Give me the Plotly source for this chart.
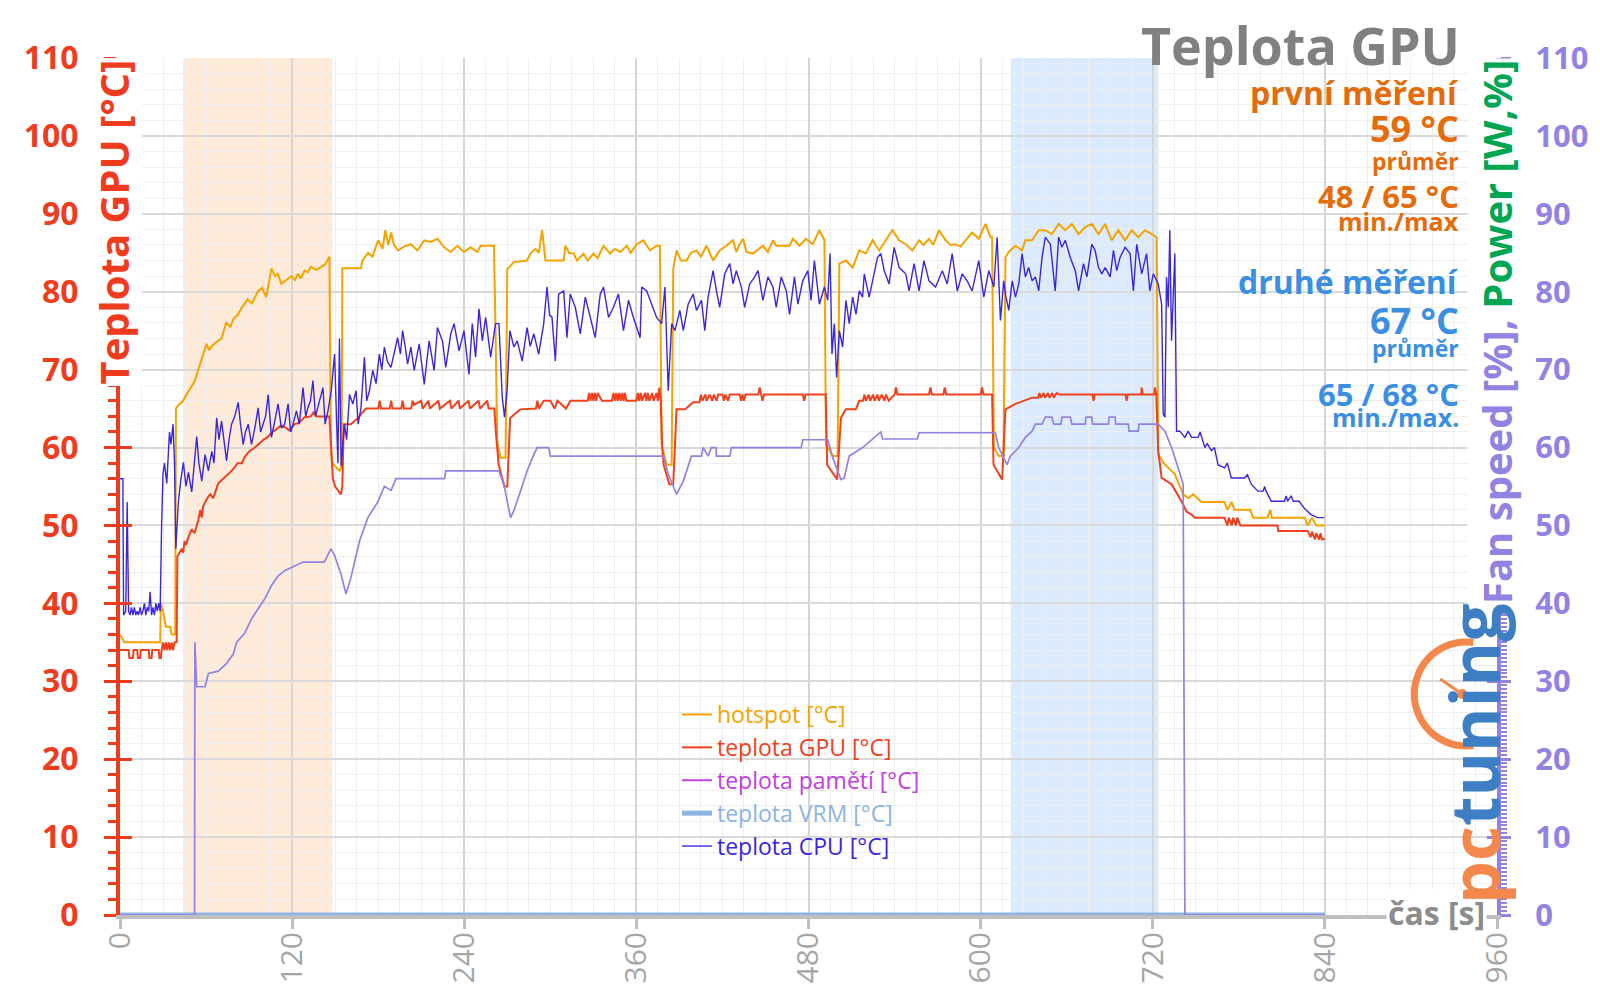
import math
import plotly.graph_objects as go

# ---------------- data (time [s], value) ----------------
hotspot = [(0,36),(3,35),(28,35),(28.5,40),(30,39),(32,37),(35,37),(36,36),(38.5,36),(39,65),(41,65.5),(44,66),(47,67),(49,67.6),(52,68.5),(54.6,70),(57,71.5),(60.4,73.3),(62,72.5),(64,73),(67,73.5),(70.8,74),(74,76),(77,75.5),(79,76.5),(82,77),(85,78),(89,79),(92,78.5),(96,80),(99,80.5),(102,79.3),(105.6,83),(108,82),(110,82.3),(112.5,81),(116,81.5),(119.5,82),(122,81.5),(124,82.3),(126,81.7),(128.7,82.7),(131,82.5),(133,83.2),(137,82.8),(140,83.2),(143,83.5),(146,84.5),(147,60),(148,58),(153,57),(154.5,57.5),(155,83),(168,83),(169,84),(173,85),(176,84.5),(180,86.6),(183,85.5),(185,87.9),(187,86),(189,87.6),(191,86),(194,85.3),(198,85.8),(202.8,86.1),(207.4,85.3),(212.1,86.6),(216.7,86.4),(221.3,86.8),(226,85.7),(230.6,85.1),(235.2,85.9),(239.8,85.1),(244.5,85.7),(249.1,85.1),(251.4,85.9),(256,85.9),(260.7,85.9),(261.8,75),(263,60.8),(265.3,58.7),(268.8,58.7),(270,82.9),(274.6,83.8),(283.8,84),(286.2,84.9),(289.6,85.5),(292,85),(294.3,87.9),(296.6,84),(300,84),(309.3,84),(310.5,85.9),(313,85),(316.3,84.9),(318.6,84),(323.2,84.9),(326,84),(330.1,84.9),(333,84.3),(337.1,85.9),(341.7,84.9),(345,85.5),(348.7,85.1),(353.3,85.9),(356,85),(360.2,86.1),(364.9,86.6),(369.5,85.3),(374.1,85.9),(376.4,85.9),(377.6,60.4),(381.1,57.8),(384.6,57.8),(385.7,82.9),(388,85.3),(391,84),(395,84),(398,85),(401.9,85.3),(405,84.5),(408.9,85.9),(413.5,84),(418.1,85.3),(422.8,85.9),(427.4,86.6),(429.7,85.1),(432,86.1),(434.4,86.8),(436.7,85.1),(441.3,84.9),(445,85.5),(448.2,85.9),(451.7,85.1),(455.2,86.6),(457.5,85.9),(462,85.9),(466.8,85.9),(469.1,86.8),(473.7,85.9),(478.3,86.8),(483,86.1),(487.6,87.9),(491.1,86.6),(492.2,60.4),(496.9,58.9),(500.3,58.9),(501.5,83.6),(506.1,84),(510.8,83.1),(515.4,85.3),(520,84.9),(524.7,86.6),(529.3,85.3),(533.9,86.6),(538.5,87.9),(543.2,86.6),(547.8,86.1),(552.4,85.3),(557.1,86.6),(560,86),(564,86.8),(567,86),(571,87.9),(575.6,86.6),(579,86),(582.5,86.1),(586,85.8),(589.5,86.6),(594.1,87.6),(598.7,86.8),(603.4,88.7),(606.8,87),(608,87),(609.2,60),(612.6,58.9),(616,58.9),(617.3,84.4),(619.6,85.1),(624.3,85.9),(628.9,85.3),(631.2,86.6),(635.9,86.6),(640.5,87.9),(645.1,87.9),(649.7,87.4),(654.4,88.7),(659,87.9),(663.6,88.7),(668.3,87.4),(672.9,88.3),(677.5,88.7),(682.2,87.4),(686.8,88.7),(691.4,86.6),(696,87.9),(700.7,86.6),(705.3,87.9),(709.9,87),(714.6,87.9),(719.2,87.4),(722.7,87),(723.8,59.1),(728.5,57.8),(735.4,56.6),(741.2,54),(745,53.5),(748,54),(751,53.5),(754,53),(770,53),(772,52),(775,53),(777,52),(788,52),(790,51),(800,51),(802,52),(803,51),(826,51),(828,50),(831,51),(834,50),(840,50)]

gpu = [(0,34),(6,34),(6.5,33),(9,33),(9.5,34),(12,34),(12.5,33),(14,33),(14.5,34),(20,34),(20.5,33),(22,33),(22.5,34),(27,34),(27.5,33),(28.5,33),(29,34),(30,35),(31,34),(32,35),(33,34),(34,35),(35,34),(36,35),(37,34),(38,35),(39.5,35),(40,46),(41.5,46.5),(43,47),(44,46.5),(45,48),(46,47.5),(47.7,48.5),(50,49.5),(52,49),(54.6,50.7),(56,52),(57,51),(58,52.5),(61.5,53.7),(63,54),(65,53.5),(68.5,55.4),(72,56),(75,56.5),(77.8,57),(80,57.5),(82,58),(85,58),(87,58.8),(90,59.5),(94,60),(97,60.5),(100,61),(103.3,61.4),(106,62),(108,62.2),(112,62.8),(115,62.6),(118,62.2),(121.8,63),(125,63.2),(128.7,63.9),(133,64),(135,64.5),(137,64),(146,64),(147.5,58),(148.4,56),(150,55),(154,54),(155,55),(156,63),(161,63),(164,63.5),(167,64),(169,64.5),(171.5,65),(180,65),(181,66),(182,65),(188,65),(189,66),(190,65),(196,65),(197,66),(198,65),(203,65),(204,66),(205,65.5),(210,66),(211,65),(215,66),(216,65),(222,66),(223,65),(230,66),(231,65),(236,66),(237,65),(243,66),(244,65),(250,66),(251,65),(256,66),(257,65),(261,65),(262,62),(264,57.8),(268,55),(270,55),(272,63.8),(279,64.9),(286,65),(290,65),(291,66),(292,65),(295.5,66),(300,66),(303,65),(305,66),(311,65),(314,66),(326,66),(327,67),(328,66),(329,67),(330,66),(331,67),(332,66),(333,67),(336,66),(343,66),(344,67),(345,66),(346,67),(347,66),(348,67),(349,66),(350,67),(351,66),(352,67),(353,66),(360,66),(361,67),(362,66),(363,67),(364,66),(366,67),(367,66),(368,67),(369,66),(371,67),(372,66),(374,67),(375,66),(376,67.7),(377,66),(378,60),(379,57.8),(383,55.3),(385.7,55.3),(388,64.9),(394,64.9),(399.6,65.8),(404,65.8),(405,66.8),(406,66),(408,66.8),(409,66),(411,66.8),(413,66),(414,66.8),(416,66),(417,66.8),(420,66.8),(421,66),(422,66.8),(424,66),(425,66.8),(432,66.8),(433,66),(434,66.8),(435,66),(436,66.8),(445,66.8),(446,67.7),(447,66.8),(448,66),(449,66.8),(476,66.8),(477,66),(478,66.8),(492,66.8),(493,57.8),(500,55.9),(502.6,63.8),(506,64.9),(513,64.9),(515.4,66),(518,66),(519,66.8),(520,66),(522,66.8),(523,66),(525,66.8),(526,66),(528,66.8),(529,66),(531,66.8),(533,66),(534,66.8),(536,66),(540,66.8),(541,67.7),(542,66.8),(564,66.8),(565,67.7),(566,66.8),(574,66.8),(575,67.7),(576,66.8),(600,66.8),(601,67.7),(602,66.8),(608,66.8),(609,57.8),(615,55.9),(617.3,64.9),(624.3,65.6),(630,66),(635.9,66.4),(640,66.4),(641,67),(642,66.4),(644,67),(645,66.4),(647,67),(648,66.4),(650,67),(651,66.4),(653,67),(655,66.8),(678,66.8),(678.7,66),(679.5,66.8),(701,66.8),(701.8,66),(702.6,66.8),(712,66.8),(712.3,67.7),(713,66.8),(721,66.8),(721.5,67.7),(722.5,66.8),(723.8,59.6),(726.2,56.1),(733.1,55.3),(740,53.1),(743.5,51.8),(747,51.4),(749.3,51),(770,51),(772,50),(773,51),(775,50),(776,51),(778,50),(779,51),(781,50),(807,50),(807.5,49.3),(828,49.3),(830,48.5),(831,49.2),(833,48.2),(834,49),(836,48.2),(837,49),(838,48.2),(840,48.3)]

cpu = [(0,56),(2,56),(2.5,38.5),(4,39),(5,53),(6,39),(7,38.5),(8,39.5),(9,38.5),(10,39.5),(11,38.5),(12,39),(13,38.5),(14,39.5),(15,38.5),(16,39),(17,40),(18,38.5),(19,39.5),(20,39),(21,41.5),(22,38.5),(23,39.5),(24,38.5),(25,40),(26,39),(27,40),(28,39),(29,50),(30,56.7),(31,58),(32.6,55.4),(34.5,62),(35.5,60.4),(37,63),(38,58),(38.9,47),(40.7,53),(42.5,56),(44.2,58.1),(46,55),(47.7,56.8),(50,54.3),(52,58),(53.5,61.4),(55,58),(57,55.7),(59.3,59.1),(61.6,57),(64,59.5),(65.5,58),(67.4,63.8),(69,61),(70.8,63.4),(72.5,61),(74.3,58.3),(76,61),(77.8,63),(80,64),(82.4,65.8),(84,63),(85.9,60.4),(87.5,62),(89.4,63),(91.7,60.4),(94,62.5),(96.3,65.1),(98,62),(99.7,63),(101.5,64),(103.3,66.8),(105.6,61.3),(108,63.5),(110.2,65.6),(112.5,62.5),(114.8,63),(117.2,65.6),(119,62),(120.6,63),(123,64.7),(125,63),(127.6,67.7),(129.5,64),(131,65.1),(132.8,66),(134.5,68.6),(136.3,64),(138,65.1),(141.5,67.7),(143,63),(145,64.7),(147.3,67.3),(149.6,72),(151.9,58),(153,74),(154.2,57.6),(156.5,63),(158,61),(160,66.8),(162.3,65.6),(164.6,67.3),(166,63),(168,65.1),(170.4,71.6),(172,66),(173.9,67.3),(176.2,69.9),(178.5,68.2),(180.8,72),(182.5,70),(184.3,72.9),(186.5,71),(188.9,70.3),(191,72),(193.5,74.1),(195.5,72),(197,75),(198.8,73),(200.5,70.7),(202.8,72.9),(205.1,69.9),(208.6,73.3),(212.1,68.1),(215.5,73.7),(219,69.9),(221.3,75.4),(224.8,73.7),(227.1,70.3),(230.6,74.6),(232.9,75.9),(236.4,72.4),(239.8,75),(243.3,69.4),(245.6,75.9),(247.9,71.6),(250.3,77.8),(252.6,73.7),(254.9,76.7),(258.4,71.6),(261.8,75.9),(264.2,75.9),(266.5,66.4),(268.1,63.9),(270,67.7),(271.8,75),(274.6,72.9),(276.9,73.7),(280.4,71.1),(283.8,75.4),(286,73),(288.5,74.6),(291.9,72),(295.4,75.9),(297.7,80.6),(299.5,77),(301.2,76.7),(303.5,71.1),(305.8,79.7),(309.3,80.1),(311.6,74.1),(313.9,79.7),(317.4,78),(320.9,74.6),(324.4,79.3),(327.8,76.7),(331.3,74.1),(334.8,79.7),(337.1,80.6),(340.6,76.7),(344,78),(347.5,79.7),(351,75),(354.5,78.9),(357.9,76.7),(362.6,74.1),(363.7,80.6),(367.2,80.1),(370.7,78.4),(374.1,76.7),(377.6,75.9),(379.9,80.6),(382.2,67.3),(384.6,75.9),(386.9,75),(390.3,77.6),(392.7,75),(396.1,78.4),(399.6,79.7),(401.9,77.6),(405.4,78.9),(407.7,75),(410,79.3),(413.5,82.7),(415.8,80.1),(418.1,78),(421.6,82.3),(425.1,83.6),(427.4,81),(429.7,82.7),(433.2,80.6),(435.5,78),(439,81),(442.5,81.9),(444.8,82.7),(448.2,78.9),(451.7,81.9),(455.2,80.6),(457.5,78),(461,81.9),(464.5,80.1),(466.8,77.1),(470.2,81.9),(472.6,78.4),(476,81.4),(479.5,82.7),(481.8,78.9),(484.1,84),(487.6,78.4),(491.1,80.6),(493.4,78.9),(495,84.9),(496.4,72),(498,75.9),(499.6,69),(501.5,75),(503.8,72.9),(506.1,78.9),(508.4,75.9),(510.8,79.3),(513.1,77.1),(515.4,80.1),(517.7,79.3),(518.9,82.3),(522.3,79.3),(525.8,82.3),(528.1,84.4),(530.4,84.9),(532.8,82.7),(536.2,81),(539.7,85.7),(543.2,83.1),(547.8,82.3),(550.1,80.1),(553.6,83.6),(557.1,80.1),(560.5,84),(564,81.4),(568.6,80.6),(573.3,82.7),(576.7,81),(580.2,84.9),(583.7,80.1),(587.2,82.3),(590.6,81.4),(594.1,80.1),(598.7,84),(602.2,79.3),(605.7,82.7),(609.2,80.6),(611.5,87),(613.8,76.3),(616.1,81.4),(617.3,79.7),(619.6,77.6),(622,81.4),(624.3,79.3),(626.6,81),(628.9,84.9),(631.2,81.9),(633.5,83.1),(635.9,81.4),(638.2,81.9),(640.5,80.1),(642.8,84.4),(645.1,87),(648.6,86.1),(652,80.1),(654.4,87),(656.7,85.7),(659,86.6),(662.5,84.4),(666,82.7),(668.3,80.1),(671.7,83.6),(674.1,81.9),(677.5,86.1),(679.8,85.3),(682.2,83.1),(684.5,82.3),(686.8,83.1),(690.3,81.9),(692.6,85.3),(694.9,82.7),(697.2,84.4),(700.7,85.7),(704.2,84.9),(706.5,80.1),(708.8,86.1),(712.3,82.3),(715.7,84.9),(718,80.1),(720.4,82.3),(723.8,81),(726.2,78.4),(727.3,64.3),(728.5,63.9),(729.6,81.9),(730.8,78),(731.9,87.9),(733.1,73.7),(735.4,84.9),(736.6,62.1),(738.9,62.1),(742.4,61.3),(744.7,62.1),(747,61.3),(751.6,61.3),(753,62),(756.3,60),(758,60.5),(760.9,59.6),(763,60),(765.5,57.8),(770.1,57.4),(772,58),(774.8,56.1),(784,56.1),(786,56.5),(788.7,55.3),(793.3,54.4),(797,54.4),(798,55),(799,54.4),(802.6,53.1),(811.8,53.1),(813,53.8),(814,53.1),(816.5,53.8),(818,53.1),(822,53.1),(825.7,52.2),(830.3,51.4),(834.9,51),(839.6,51)]

fan = [(0,0),(52,0),(52.2,35),(53.5,29.3),(59.3,29.3),(61.6,31),(68.5,31.3),(74.3,32.3),(79,33.5),(81.3,35),(87,36.2),(91.7,38),(96.3,39.3),(101,40.6),(105.6,42.3),(110.2,43.5),(114.8,44.2),(127.6,45.3),(142.4,45.3),(147,47),(149.3,46.3),(154,43.8),(157.6,41.2),(161,43.3),(167,48),(172.8,51),(179.7,53),(184.3,55),(189,54.5),(192.4,56),(226.3,56),(227.1,57),(264.2,57),(267.6,55.3),(272.3,51),(274.6,51.9),(279.2,54.4),(283.8,57),(288.5,59.1),(290.8,60),(298.9,60),(300,58.9),(378.8,58.9),(382.2,56.6),(388,54),(392.7,55.7),(398.4,58.9),(405.4,58.9),(406.5,60),(410,58.9),(412.3,60),(415.5,60),(415.8,58.9),(425.1,58.9),(426.3,60),(474.9,60),(476,61),(493.4,61),(496.9,58.7),(502.6,55.9),(504.9,56.1),(508.4,58.9),(517.7,60),(524.7,61.1),(530.4,62),(531.6,61.1),(555.9,61.1),(557.1,61.9),(610.3,61.9),(612.6,60),(618.4,57.8),(620.7,58.9),(626.6,60),(631.2,61.3),(635.9,62.1),(638.2,63),(642.8,63),(645.1,63.9),(649.7,63.9),(650.9,63),(656,63),(656.7,63.9),(662.5,63.9),(663.6,63),(672.9,63),(673.5,63.9),(677.5,63.9),(678,63),(689.1,63),(689.6,63.9),(693.7,63.9),(694.2,63),(703,63),(703.5,62.1),(709.9,62.1),(710.4,63),(723.8,63),(728.5,62.1),(733.1,60),(737.7,57.4),(741.2,55.3),(742.4,0),(840,0)]

memory = [(0,0),(840,0)]
vrm = [(0,0),(840,0)]

bands = [(44, 148), (621, 724)]          # highlighted test intervals [s]
x_ticks = [0, 120, 240, 360, 480, 600, 720, 840, 960]

# ---------------- styling ----------------
RED = "#F03C1E"
PURPLE = "#9282E2"
GREEN = "#00A651"
GRAY = "#A6A6A6"
ORANGE_T = "#E46C0A"
BLUE_T = "#3A8FE3"
C_HOT = "#F5A300"
C_GPU = "#F0401E"
C_MEM = "#C040E0"
C_VRM = "#8DB4E2"
C_CPU = "#3B26E0"
C_FAN = "#9282E2"
FONT = "Open Sans"

PL, PR, PT, PB = 120, 1502, 58, 915
def fx(px):
    return (px - PL) / (PR - PL)
def fy(py):
    return (PB - py) / (PB - PT)

def unzip(pairs):
    return [p[0] for p in pairs], [p[1] for p in pairs]

fig = go.Figure()

fx_, fv_ = unzip(fan)
fig.add_trace(go.Scatter(x=fx_, y=fv_, yaxis="y2", mode="lines", name="Fan speed [%]",
                         line=dict(color=C_FAN, width=1.7), showlegend=False, hoverinfo="skip"))

series = [
    ("hotspot [°C]", hotspot, C_HOT, 2.0),
    ("teplota GPU [°C]", gpu, C_GPU, 2.0),
    ("teplota pamětí [°C]", memory, C_MEM, 2.0),
    ("teplota VRM [°C]", vrm, C_VRM, 5.0),
    ("teplota CPU [°C]", cpu, C_CPU, 1.4),
]
for name, pairs, col, w in series:
    xs, ys = unzip(pairs)
    fig.add_trace(go.Scatter(x=xs, y=ys, mode="lines",
                             name=f"<span style='color:{col}'>{name}</span>",
                             line=dict(color=col, width=w)))

shapes = []
band_cols = ["rgba(250,205,165,0.42)", "rgba(160,200,246,0.38)"]
for (b0, b1), bc in zip(bands, band_cols):
    shapes.append(dict(type="rect", xref="x", yref="paper", x0=b0, x1=b1, y0=0, y1=1,
                       fillcolor=bc, line=dict(width=0), layer="below"))

# logo gauge (decoration)
cx, cy, r = 1471, 694, 52
pts = []
for k in range(0, 37):
    a = math.radians(82 + k * 196 / 36)
    pts.append((cx + r * math.cos(a), cy - r * math.sin(a)))
path = "M " + " L ".join(f"{fx(px):.5f},{fy(py):.5f}" for px, py in pts)
shapes.append(dict(type="path", xref="paper", yref="paper", path=path,
                   line=dict(color="#F4874B", width=7)))
shapes.append(dict(type="line", xref="paper", yref="paper", x0=fx(1445), y0=fy(679), x1=fx(1467), y1=fy(694),
                   line=dict(color="#F4874B", width=3)))
shapes.append(dict(type="circle", xref="paper", yref="paper", x0=fx(1462), y0=fy(689), x1=fx(1472), y1=fy(699),
                   fillcolor="#F4874B", line=dict(width=0)))

ann = []
def txt(text, px, py, size, color, xanchor="right", bold=True, angle=0, bg=None, yanchor="middle", fam=FONT):
    d = dict(text=text, x=fx(px), y=fy(py), xref="paper", yref="paper", showarrow=False,
             xanchor=xanchor, yanchor=yanchor, textangle=angle,
             font=dict(family=fam, size=size, color=color, weight="bold" if bold else "normal"))
    if bg:
        d["bgcolor"] = bg
    ann.append(d)

XR = 1466
txt("Teplota GPU", XR + 1, 44, 52, "#808080")
txt("první měření", XR, 92, 32, ORANGE_T)
txt("59 °C", XR, 129, 36, ORANGE_T)
txt("průměr", XR, 161, 23, ORANGE_T)
txt("48 / 65 °C", XR, 196, 31, ORANGE_T)
txt("min./max", XR, 221, 25, ORANGE_T)
txt("druhé měření", XR, 281, 32, BLUE_T)
txt("67 °C", XR, 321, 36, BLUE_T)
txt("průměr", XR, 348, 23, BLUE_T)
txt("65 / 68 °C", XR, 394, 31, BLUE_T)
txt("min./max.", XR, 417, 25, BLUE_T)

txt("Teplota GPU [°C]", 113, 58, 40, RED, xanchor="center", angle=-90, bg="white", yanchor="top")
txt(f"<span style='color:{PURPLE}'>Fan speed [%], </span><span style='color:{GREEN}'>Power [W,%]</span>",
    1501, 58, 40, PURPLE, xanchor="center", angle=-90, bg="white", yanchor="top")
txt("čas [s]", 1441, 912, 32, "#8C8C8C", xanchor="center", bg="white")
txt("<span style='color:#F4874B'>pc</span><span style='color:#3D7EC4'>tuning</span>",
    1478, 754, 68, "#3D7EC4", xanchor="center", angle=-90)

fig.update_layout(
    width=1600, height=1008,
    margin=dict(l=PL, r=1600 - PR, t=PT, b=1008 - PB, pad=0),
    paper_bgcolor="white", plot_bgcolor="white",
    font=dict(family=FONT),
    shapes=shapes, annotations=ann,
    showlegend=True,
    legend=dict(x=fx(679), y=fy(693), xanchor="left", yanchor="top",
                bgcolor="rgba(0,0,0,0)", font=dict(family=FONT, size=23),
                itemwidth=30, tracegroupgap=0),
    xaxis=dict(range=[0, 960], tickmode="array", tickvals=x_ticks, showgrid=True,
               gridcolor="#D6D6D6", gridwidth=2,
               minor=dict(dtick=15, tick0=0, showgrid=True, gridcolor="#EEEEEE", gridwidth=1, ticks=""),
               showline=True, linecolor="#BFBFBF", linewidth=4,
               ticks="outside", ticklen=10, tickwidth=3, tickcolor="#BFBFBF",
               tickangle=-90, tickfont=dict(family=FONT, size=30, color=GRAY),
               ticklabelstandoff=-9, zeroline=False),
    yaxis=dict(range=[0, 110], dtick=10, tick0=0, showgrid=True, gridcolor="#D9D9D9", gridwidth=2,
               minor=dict(dtick=2, tick0=0, showgrid=True, gridcolor="#EEEEEE", gridwidth=1,
                          ticks="outside", ticklen=8, tickwidth=3, tickcolor=RED),
               showline=True, linecolor=RED, linewidth=4,
               ticks="outside", ticklen=12, tickwidth=3, tickcolor=RED,
               tickfont=dict(family=FONT, size=32, color=RED, weight="bold"),
               ticklabelstandoff=19, zeroline=False),
    yaxis2=dict(range=[0, 110], dtick=10, tick0=0, overlaying="y", side="right", showgrid=False,
                minor=dict(dtick=0.5, tick0=0, showgrid=False, ticks="outside", ticklen=6,
                           tickwidth=2, tickcolor=PURPLE),
                showline=True, linecolor=PURPLE, linewidth=4,
                ticks="outside", ticklen=10, tickwidth=3, tickcolor=PURPLE,
                tickfont=dict(family=FONT, size=31, color=PURPLE, weight="bold"),
                ticklabelstandoff=18, zeroline=False),
    yaxis3=dict(range=[0, 110], dtick=10, tick0=0, overlaying="y", side="left", showgrid=False,
                showline=False, ticks="inside", ticklen=12, tickwidth=3, tickcolor=RED,
                showticklabels=False, zeroline=False),
    yaxis4=dict(range=[0, 110], dtick=10, tick0=0, overlaying="y", side="right", showgrid=False,
                showline=False, ticks="inside", ticklen=10, tickwidth=3, tickcolor=PURPLE,
                showticklabels=False, zeroline=False),
)
fig.add_trace(go.Scatter(x=[], y=[], yaxis="y3", showlegend=False, hoverinfo="skip"))
fig.add_trace(go.Scatter(x=[], y=[], yaxis="y4", showlegend=False, hoverinfo="skip"))

fig.write_html("out.html", config={"displayModeBar": False},
               post_script="document.body.style.margin='0';document.body.style.overflow='hidden';")
